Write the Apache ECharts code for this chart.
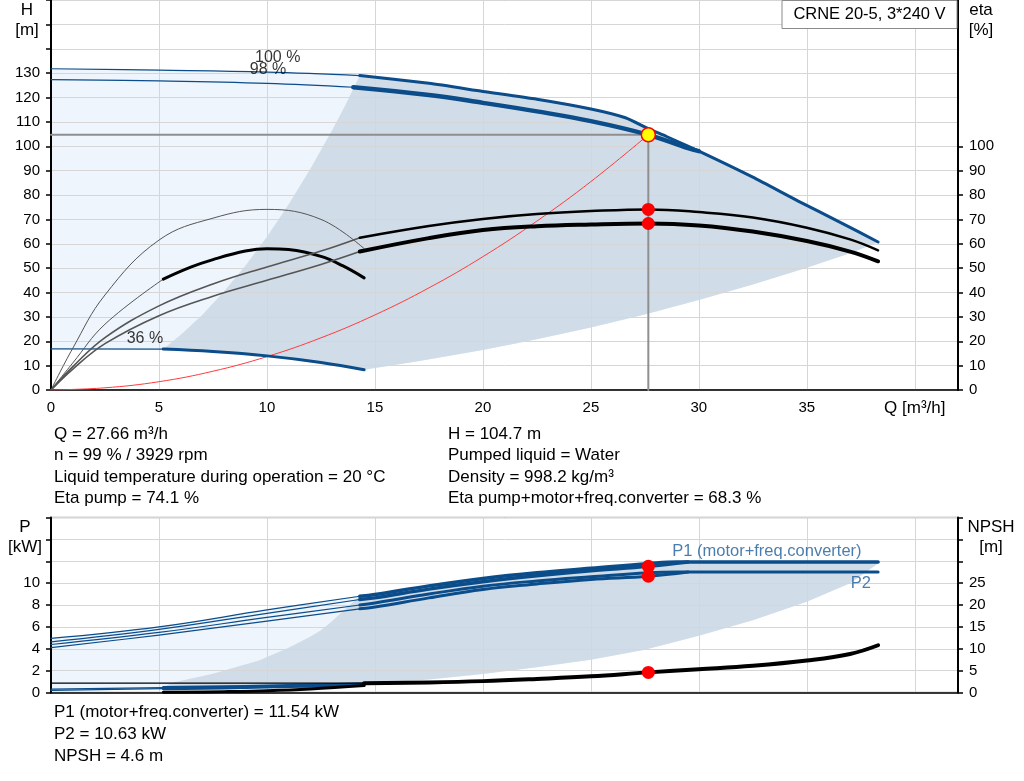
<!DOCTYPE html>
<html><head><meta charset="utf-8">
<script src="https://cdn.jsdelivr.net/npm/echarts@6/dist/echarts.min.js"></script>
<style>html,body{margin:0;padding:0;background:#fff}#c{width:1024px;height:781px}</style>
</head><body><div id="c"></div>
<script>
// ---------- operating point ----------
const opQ = 27.66, opH = 104.7, opEtaPump = 74.1, opEtaTot = 68.3;
const opP1 = 11.54, opP2 = 10.63, opNPSH = 4.6;
const speedPct = 99, rpm = 3929, liquidTemp = 20, density = 998.2, liquid = 'Water';
const pumpTitle = 'CRNE 20-5, 3*240 V';

// ---------- tick labels ----------
const qLabelValues = [0, 5, 10, 15, 20, 25, 30, 35];
const qAxisTitle = 'Q [m³/h]';
const hLabelMax = 130, etaLabelMax = 100, pLabelMax = 10, npshLabelMax = 25;
const etaTickValues = [0, 10, 20, 30, 40, 50, 60, 70, 80, 90, 100];

// ---------- head curves [Q, H] ----------
const h100Thin = [[0,131.8],[5,131.2],[10,130.4],[14.3,129.0]];
const h100Thick = [[14.3,129.0],[17.5,125.8],[20,122.5],[22.5,119.3],[25,115.3],[26.6,111.7],[27.66,107.2],[28.5,104.0],[30,98.0],[32.5,87.3],[34.6,77.5],[36.5,69.0],[38.3,60.7]];
const h98Thin = [[0,127.3],[5,126.8],[10,125.8],[14.0,124.2]];
const h98Thick = [[14.0,124.2],[17.5,121.0],[20,117.8],[22.5,114.3],[25,110.3],[27.66,104.7],[29.5,99.2],[30,98.0]];
const h36Thin = [[0,16.9],[5.2,16.8]];
const h36Thick = [[5.2,16.8],[7.5,15.8],[10,14.0],[12.5,11.3],[14.5,8.3]];
const hLeftBound = [[5.2,16.8],[6,22.6],[7,30.8],[8,40.3],[9,51],[10,62.9],[11,76.1],[12,90.6],[13,106.3],[13.6,116.3],[14.3,129.0]];
const hBottomBound = [[14.5,8.3],[17,11.8],[20,16.4],[22.5,20.8],[25,25.6],[27.5,31],[30,36.9],[32.5,43.3],[35,50.2],[37,56.1],[38.3,60.6]];
const systemCurve = [[0,0],[2.5,0.9],[5,3.4],[7.5,7.7],[10,13.7],[12.5,21.4],[15,30.8],[17.5,41.9],[20,54.7],[22.5,69.3],[25,85.5],[27.66,104.7]];

// ---------- efficiency curves [Q, eta] ----------
const eta36PumpThin = [[0,0],[1,17],[2.5,39],[5,61.5],[7.5,70.5],[10,74.1],[12.5,70],[14.5,58]];
const eta36TotThin = [[0,0],[1,11],[2.5,27],[5.2,45.5]];
const eta36TotThick = [[5.2,45.5],[6.5,50.5],[7.5,53.5],[9,57],[10,58],[11,57.6],[12.5,54.8],[13.5,51],[14.5,46]];
const etaPumpThin = [[0,0],[1,9.5],[2.5,21.5],[5,34.5],[7.5,43.5],[10,50.5],[12.5,57],[14.3,62.5]];
const etaPumpThick = [[14.3,62.5],[17.5,67.3],[20,70.2],[22.5,72.2],[25,73.4],[27.66,74.1],[30,73.0],[32.5,70.8],[35,66.6],[37,61.8],[38.3,57.3]];
const etaTotThin = [[0,0],[1,8.5],[2.5,19],[5,30.5],[7.5,38.5],[10,45],[12.5,51.5],[14.3,56.8]];
const etaTotThick = [[14.3,56.8],[17.5,62.3],[20,65.6],[22.5,67.2],[25,67.9],[27.66,68.3],[30,67.5],[32.5,65.0],[35,61.1],[37,56.8],[38.3,52.8]];

// ---------- power curves [Q, P kW] ----------
const p1MaxThin = [[0,4.94],[5,6.0],[10,7.55],[14.3,8.8]];
const p1MaxThick = [[14.3,8.8],[15,8.96],[17.5,9.75],[20,10.43],[22.5,10.95],[25,11.35],[27.66,11.78],[29,11.93],[38.3,11.93]];
const p1OpThin = [[0,4.63],[5,5.77],[10,7.24],[14.3,8.5]];
const p1OpThick = [[14.3,8.5],[15,8.65],[17.5,9.45],[20,10.12],[22.5,10.67],[25,11.13],[27.66,11.54],[29.5,11.93]];
const p2MaxThin = [[0,4.39],[5,5.49],[10,6.87],[14.3,8.0]];
const p2MaxThick = [[14.3,8.0],[15,8.19],[17.5,9.0],[20,9.72],[22.5,10.2],[25,10.58],[27.66,10.95],[29,11.02],[38.3,11.02]];
const p2OpThin = [[0,4.11],[5,5.25],[10,6.53],[14.3,7.65]];
const p2OpThick = [[14.3,7.65],[15,7.82],[17.5,8.65],[20,9.42],[22.5,9.92],[25,10.34],[27.66,10.63],[29.5,11.02]];
const p1MinThin = [[0,0.3],[5.2,0.45]];
const p1MinThick = [[5.2,0.45],[8,0.52],[10,0.6],[12,0.68],[14.5,0.8]];
const p2MinThin = [[0,0.2],[5.2,0.35]];
const p2MinThick = [[5.2,0.35],[8,0.42],[10,0.5],[12,0.58],[14.5,0.7]];
const pLeftBound = [[5.2,0.45],[5.6,0.9],[7.5,1.72],[9.67,2.94],[10,3.25],[11,4.1],[12,5.1],[12.5,5.7],[13,6.5],[13.5,7.4],[14.3,8.8]];
const pBottomBound = [[14.5,0.8],[17.5,1.2],[20,1.7],[22.5,2.3],[25,3.0],[27.5,3.9],[30,5.2],[32.5,6.6],[35,8.3],[37,10.0],[38.3,11.8]];

// ---------- NPSH curves [Q, m] ----------
const npshThin = [[0,2.15],[14.5,2.15]];
const npshThick = [[14.5,2.1],[17.5,2.3],[20,2.6],[22.5,3.1],[25,3.7],[27.66,4.6],[30,5.3],[32.5,6.1],[35,7.3],[37,8.8],[38.3,10.8]];
const npshMinThick = [[5.2,0.05],[8,0.2],[10,0.4],[12,0.8],[14.5,1.6]];

// ---------- curve labels ----------
const topLabels = [
  { name: '100 %', value: [10.5, 136.4] },
  { name: '98 %', value: [10.05, 131.4] },
  { name: '36 %', value: [4.35, 21.0] }
];
const bottomLabels = [
  { name: 'P1 (motor+freq.converter)', value: [33.15, 12.9] },
  { name: 'P2', value: [37.5, 10.0] }
];

// ================= rendering =================
const FONT = '"Liberation Sans", Arial, sans-serif';
const BLUE = '#0b4c8a';
const LABEL_BLUE = '#1d5c98';
const DARK_FILL = '#d0dce7';
const LIGHT_FILL = '#eef5fc';
const GRID_COLOR = '#d6d6d6';

const rev = a => a.slice().reverse();

const topLight = [...h100Thin, ...h100Thick, ...rev(hBottomBound), ...rev(h36Thick), ...rev(h36Thin)];
const topDark = [...hLeftBound, ...h100Thick, ...rev(hBottomBound), ...rev(h36Thick)];
const botLight = [...p1MaxThin, ...p1MaxThick, ...rev(pBottomBound), ...rev(p2MinThick), ...rev(p2MinThin)];
const botDark = [...pLeftBound, ...p1MaxThick, ...rev(pBottomBound), ...rev(p1MinThick)];

function poly(points, fill, xi, yi, z) {
  return {
    type: 'custom', xAxisIndex: xi, yAxisIndex: yi, z: z, silent: true,
    data: [[0, 0]],
    renderItem: (params, api) => ({
      type: 'polygon',
      shape: { points: points.map(p => api.coord(p)), smooth: 0 },
      style: { fill: fill, stroke: null }
    })
  };
}
function ln(data, color, width, xi, yi, smooth) {
  return {
    type: 'line', data: data, xAxisIndex: xi, yAxisIndex: yi,
    symbol: 'none', showSymbol: false, silent: true,
    smooth: smooth === undefined ? 0.4 : smooth,
    lineStyle: { color: color, width: width, cap: 'round', join: 'round' },
    z: 3
  };
}
function dots(data, size, fill, border, xi, yi) {
  return {
    type: 'scatter', data: data, xAxisIndex: xi, yAxisIndex: yi,
    symbol: 'circle', symbolSize: size, silent: true, z: 10,
    itemStyle: { color: fill, borderColor: border, borderWidth: border ? 1.5 : 0, opacity: 1 }
  };
}
function labels(data, color, size, xi, yi) {
  return {
    type: 'scatter', data: data, xAxisIndex: xi, yAxisIndex: yi,
    symbolSize: 1, silent: true, z: 9,
    itemStyle: { color: 'rgba(0,0,0,0)' },
    label: { show: true, position: 'inside', formatter: p => p.name, color: color, fontSize: size, fontFamily: FONT }
  };
}

const axisText = { color: '#000', fontSize: 15, fontFamily: FONT };

function xAxis(gi, showLabels) {
  return {
    type: 'value', gridIndex: gi, min: 0, max: 42, interval: 5,
    axisLine: { show: true, onZero: false, lineStyle: { color: '#000', width: 1.5 } },
    axisTick: { show: false },
    axisLabel: {
      show: showLabels, ...axisText, margin: 10,
      formatter: v => qLabelValues.includes(v) ? String(v) : (v === 40 ? '{t|' + qAxisTitle + '}' : ''),
      rich: { t: { fontSize: 17, fontFamily: FONT, color: '#000' } }
    },
    splitLine: { show: true, lineStyle: { color: GRID_COLOR, width: 1 } }
  };
}
function yAxis(gi, pos, max, interval, labelMax, split, tickValues) {
  const tick = { show: true, inside: false, length: 5, lineStyle: { color: '#000', width: 1.5 } };
  if (tickValues) tick.customValues = tickValues;
  return {
    type: 'value', gridIndex: gi, position: pos, min: 0, max: max, interval: interval,
    axisLine: { show: true, onZero: false, lineStyle: { color: '#000', width: 2 } },
    axisTick: tick,
    axisLabel: { ...axisText, margin: 11, formatter: v => v <= labelMax ? String(v) : '' },
    splitLine: { show: split, lineStyle: { color: GRID_COLOR, width: 1 } }
  };
}

const series = [
  poly(topLight, LIGHT_FILL, 0, 0, -2),
  poly(topDark, DARK_FILL, 0, 0, -1),
  poly(botLight, LIGHT_FILL, 1, 2, -2),
  poly(botDark, DARK_FILL, 1, 2, -1),

  // system curve and crosshair
  ln(systemCurve, '#ff3b3b', 1, 0, 0),
  ln([[0, opH], [opQ, opH], [opQ, 0]], '#8f8f8f', 2, 0, 0, false),

  // head
  ln(h100Thin, BLUE, 1.2, 0, 0),
  ln(h100Thick, BLUE, 3, 0, 0, 0.2),
  ln(h98Thin, BLUE, 1.2, 0, 0),
  ln(h98Thick, BLUE, 4.5, 0, 0),
  ln(h36Thin, BLUE, 1.2, 0, 0),
  ln(h36Thick, BLUE, 3, 0, 0),

  // efficiency
  ln(eta36PumpThin, '#555', 1, 0, 1),
  ln(eta36TotThin, '#555', 1, 0, 1),
  ln(eta36TotThick, '#000', 3, 0, 1),
  ln(etaPumpThin, '#555', 1.6, 0, 1),
  ln(etaPumpThick, '#000', 2.5, 0, 1),
  ln(etaTotThin, '#555', 1.6, 0, 1),
  ln(etaTotThick, '#000', 4, 0, 1),

  // power
  ln(p1MaxThin, BLUE, 1.2, 1, 2),
  ln(p1MaxThick, BLUE, 3.5, 1, 2),
  ln(p1OpThin, BLUE, 1.2, 1, 2),
  ln(p1OpThick, BLUE, 3.5, 1, 2),
  ln(p2MaxThin, BLUE, 1.2, 1, 2),
  ln(p2MaxThick, BLUE, 3, 1, 2),
  ln(p2OpThin, BLUE, 1.2, 1, 2),
  ln(p2OpThick, BLUE, 3, 1, 2),
  ln(p1MinThin, BLUE, 1.2, 1, 2),
  ln(p1MinThick, BLUE, 3, 1, 2),
  ln(p2MinThin, BLUE, 1.2, 1, 2),
  ln(p2MinThick, BLUE, 3, 1, 2),

  // NPSH
  ln(npshThin, '#000', 1.2, 1, 3),
  ln(npshThick, '#000', 4, 1, 3),
  ln(npshMinThick, '#000', 3, 1, 3),

  // operating point markers
  dots([[opQ, opH]], 14, '#ffff00', '#ff0000', 0, 0),
  dots([[opQ, opEtaPump], [opQ, opEtaTot]], 13, '#ff0000', null, 0, 1),
  dots([[opQ, opP1], [opQ, opP2]], 13, '#ff0000', null, 1, 2),
  dots([[opQ, opNPSH]], 13, '#ff0000', null, 1, 3),

  labels(topLabels, '#000', 16, 0, 0),
  labels(bottomLabels, LABEL_BLUE, 16.5, 1, 2)
];

function txt(x, y, text, size, align) {
  return {
    type: 'text', z: 100, silent: true,
    style: {
      text: text, x: x, y: y, fill: '#000',
      font: size + 'px ' + FONT,
      textAlign: align || 'left', align: align || 'left',
      textVerticalAlign: 'middle', verticalAlign: 'middle'
    }
  };
}

const infoLeft = [
  `Q = ${opQ} m³/h`,
  `n = ${speedPct} % / ${rpm} rpm`,
  `Liquid temperature during operation = ${liquidTemp} °C`,
  `Eta pump = ${opEtaPump} %`
];
const infoRight = [
  `H = ${opH} m`,
  `Pumped liquid = ${liquid}`,
  `Density = ${density} kg/m³`,
  `Eta pump+motor+freq.converter = ${opEtaTot} %`
];
const infoBottom = [
  `P1 (motor+freq.converter) = ${opP1} kW`,
  `P2 = ${opP2} kW`,
  `NPSH = ${opNPSH} m`
];

const graphic = [
  txt(27, 10, 'H', 17, 'center'), txt(27, 30, '[m]', 17, 'center'),
  txt(981, 10, 'eta', 17, 'center'), txt(981, 30, '[%]', 17, 'center'),
  txt(25, 527, 'P', 17, 'center'), txt(25, 547, '[kW]', 17, 'center'),
  txt(991, 527, 'NPSH', 17, 'center'), txt(991, 547, '[m]', 17, 'center'),
  { type: 'rect', z: 99, silent: true, shape: { x: 782, y: 0.5, width: 175, height: 28 },
    style: { fill: '#fff', stroke: '#8a8a8a', lineWidth: 1 } },
  txt(869.5, 14.5, pumpTitle, 16.5, 'center')
];
[434.5, 455.8, 477.1, 498.4].forEach((y, i) => {
  graphic.push(txt(54, y, infoLeft[i], 17));
  graphic.push(txt(448, y, infoRight[i], 17));
});
[712.7, 734.3, 756].forEach((y, i) => graphic.push(txt(54, y, infoBottom[i], 17)));

const chart = echarts.init(document.getElementById('c'), null, { renderer: 'canvas' });
chart.setOption({
  animation: false,
  backgroundColor: '#fff',
  grid: [
    { left: 51, width: 907, top: 0, height: 390, show: true, borderColor: '#a0a0a0', borderWidth: 1.5, backgroundColor: 'transparent', z: 0 },
    { left: 51, width: 907, top: 517.5, height: 175, show: true, borderColor: '#a0a0a0', borderWidth: 1.5, backgroundColor: 'transparent', z: 0 }
  ],
  xAxis: [xAxis(0, true), xAxis(1, false)],
  yAxis: [
    yAxis(0, 'left', 160, 10, hLabelMax, true),
    yAxis(0, 'right', 160, 10, etaLabelMax, false, etaTickValues),
    yAxis(1, 'left', 16, 2, pLabelMax, true),
    yAxis(1, 'right', 40, 5, npshLabelMax, false)
  ],
  series: series,
  graphic: graphic
});
</script></body></html>
